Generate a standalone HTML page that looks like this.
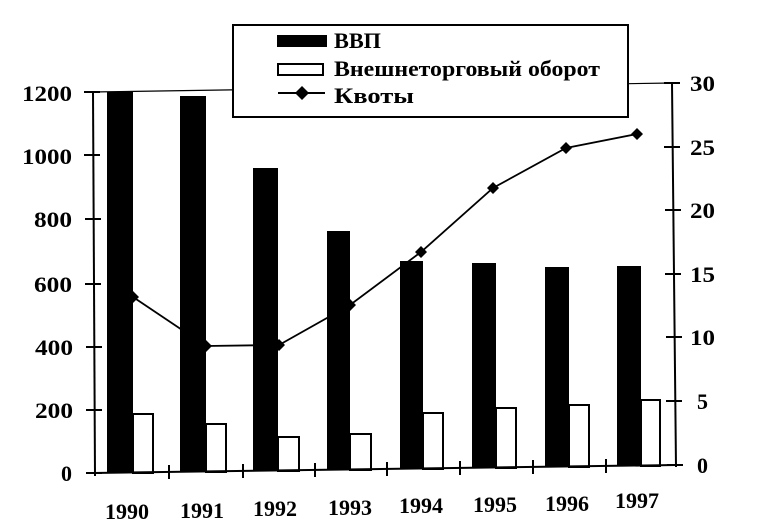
<!DOCTYPE html>
<html><head><meta charset="utf-8"><style>
body{margin:0;background:#fff}
svg{display:block}
text{font-family:"Liberation Serif",serif;font-weight:bold;fill:#000}
</style></head><body>
<svg width="776" height="525" viewBox="0 0 776 525" xmlns="http://www.w3.org/2000/svg">
<!-- bars -->
<g fill="#000">
<rect x="107" y="92" width="26" height="381"/>
<rect x="180" y="96" width="26" height="376"/>
<rect x="253" y="168" width="25" height="303"/>
<rect x="327" y="231" width="23" height="239"/>
<rect x="400" y="261" width="23" height="208"/>
<rect x="472" y="263" width="24" height="205"/>
<rect x="545" y="267" width="24" height="200"/>
<rect x="617" y="266" width="24" height="200"/>
</g>
<g fill="#fff" stroke="#000" stroke-width="2">
<rect x="133" y="414" width="20" height="59"/>
<rect x="206" y="424" width="20" height="48"/>
<rect x="278" y="437" width="21" height="34"/>
<rect x="350" y="434" width="21" height="36"/>
<rect x="423" y="413" width="20" height="56"/>
<rect x="496" y="408" width="20" height="60"/>
<rect x="569" y="405" width="20" height="62"/>
<rect x="641" y="400" width="19" height="66"/>
</g>
<!-- axes -->
<g stroke="#000" stroke-width="2" fill="none">
<line x1="93" y1="92" x2="95" y2="476"/>
<line x1="672" y1="83" x2="676" y2="467"/>
<line x1="93" y1="473" x2="676" y2="465"/>
<line x1="93" y1="92" x2="672" y2="83" stroke-width="1.2"/>
<path d="M84 92h16M84 155h16M85 219h16M85 284h16M86 347h16M86 410h16M86 473h16"/>
<path d="M664 83h16M664 147h16M665 210h16M665 274h16M666 337h16M666 401h16M667 465h16"/>
<path d="M169 465v14M243 464v14M315 463v14M387 462v14M460 461v14M533 460v14M606 459v14"/>
<polyline points="133,297 206,346 279,345 350,305 421,252 493,188 566,148 637,134" stroke-width="1.8"/>
</g>
<g fill="#000">
<path d="M133,291 l6,6 -6,6 -6,-6z M206,340 l6,6 -6,6 -6,-6z M279,339 l6,6 -6,6 -6,-6z M350,299 l6,6 -6,6 -6,-6z M421,246 l6,6 -6,6 -6,-6z M493,182 l6,6 -6,6 -6,-6z M566,142 l6,6 -6,6 -6,-6z M637,128 l6,6 -6,6 -6,-6z"/>
</g>
<g font-size="22" lengthAdjust="spacingAndGlyphs">
<text x="22" y="101" textLength="50" lengthAdjust="spacingAndGlyphs">1200</text>
<text x="22" y="164" textLength="50" lengthAdjust="spacingAndGlyphs">1000</text>
<text x="34" y="227" textLength="38" lengthAdjust="spacingAndGlyphs">800</text>
<text x="34" y="292" textLength="38" lengthAdjust="spacingAndGlyphs">600</text>
<text x="35" y="355" textLength="38" lengthAdjust="spacingAndGlyphs">400</text>
<text x="35" y="418" textLength="38" lengthAdjust="spacingAndGlyphs">200</text>
<text x="61" y="481">0</text>
</g>
<g font-size="22">
<text x="690" y="91" textLength="25" lengthAdjust="spacingAndGlyphs">30</text>
<text x="690" y="155" textLength="25" lengthAdjust="spacingAndGlyphs">25</text>
<text x="690" y="218" textLength="25" lengthAdjust="spacingAndGlyphs">20</text>
<text x="690" y="282" textLength="25" lengthAdjust="spacingAndGlyphs">15</text>
<text x="690" y="345" textLength="25" lengthAdjust="spacingAndGlyphs">10</text>
<text x="697" y="409">5</text><text x="697" y="473">0</text>
</g>
<g font-size="22" text-anchor="middle">
<text x="127" y="519">1990</text><text x="202" y="518">1991</text><text x="275" y="516">1992</text>
<text x="350" y="515">1993</text><text x="421" y="513">1994</text><text x="495" y="512">1995</text>
<text x="567" y="511">1996</text><text x="637" y="508">1997</text>
</g>
<!-- legend -->
<rect x="233" y="25" width="395" height="92" fill="#fff" stroke="#000" stroke-width="2"/>
<rect x="277" y="35" width="50" height="12" fill="#000"/>
<rect x="278" y="64" width="45" height="11" fill="#fff" stroke="#000" stroke-width="2"/>
<line x1="278" y1="93" x2="325" y2="93" stroke="#000" stroke-width="2"/>
<path d="M302,86 l7,7 -7,7 -7,-7z" fill="#000"/>
<g font-size="22">
<text x="334" y="48" textLength="47" lengthAdjust="spacingAndGlyphs">ВВП</text>
<text x="334" y="76" textLength="266" lengthAdjust="spacingAndGlyphs">Внешнеторговый оборот</text>
<text x="334" y="103" textLength="80" lengthAdjust="spacingAndGlyphs">Квоты</text>
</g>
</svg>
</body></html>
